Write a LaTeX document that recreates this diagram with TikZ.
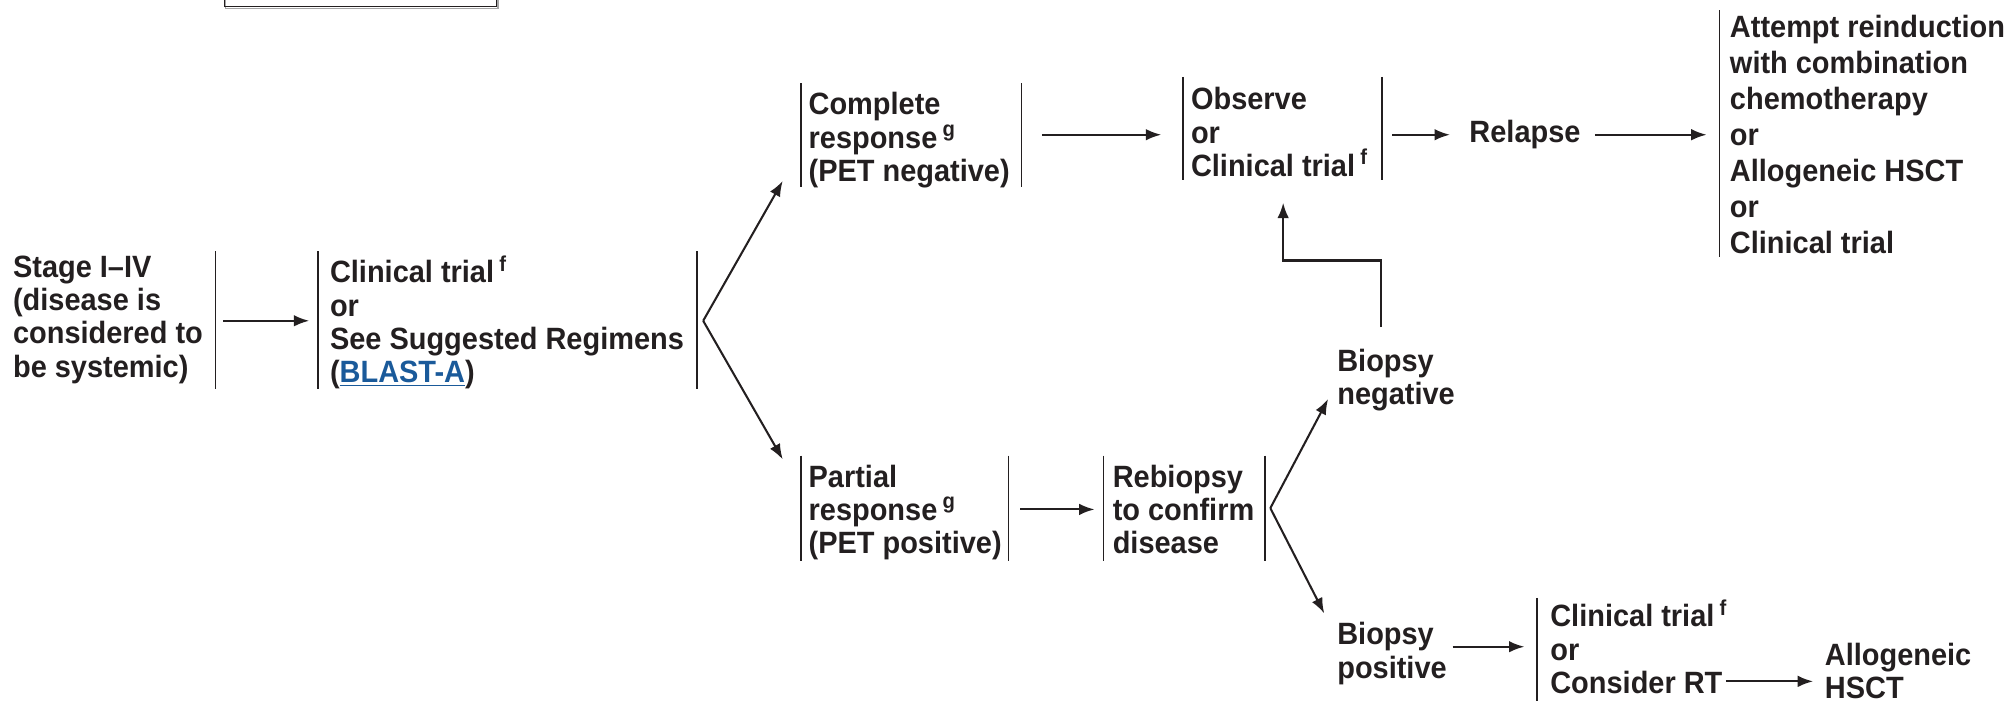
\documentclass[tikz,border=0pt]{standalone}
\usepackage{fontspec}
\setmainfont{Liberation Sans}[FakeStretch=0.94]
\usetikzlibrary{arrows.meta}
\definecolor{ink}{HTML}{231F20}
\definecolor{linkblue}{HTML}{1A5A9A}

\begin{document}
\begin{tikzpicture}[x=1pt,y=-1pt,
  txt/.style={inner sep=0pt, align=left, anchor=north west, text=ink,
              font=\bfseries\fontsize{24}{26}\selectfont},
  bar/.style={draw=ink, line width=1.4pt},
  arr/.style={draw=ink, line width=1.6pt, -{Latex[length=12pt,width=9pt]}}]
\useasboundingbox (0,0) rectangle (1568,548);

% box cut off at the top edge
\draw[gray!70, line width=1pt] (176,-10) -- (176,6.5) -- (388,6.5) -- (388,-10);
\draw[ink, line width=1.1pt] (175,-10) rectangle (387,5);

% text blocks
\node[txt] (stage) at (10,199) {Stage I–IV\\(disease is\\considered to\\be systemic)};
\node[txt] (trt) at (257,199) {Clinical trial\,\textsuperscript{f}\\or\\See Suggested Regimens\\(\textcolor{linkblue}{\underline{BLAST-A}})};
\node[txt] (cr) at (630,72) {Complete\\response\,\textsuperscript{g}\\(PET negative)};
\node[txt] (obs) at (928,68) {Observe\\or\\Clinical trial\,\textsuperscript{f}};
\node[txt, anchor=west] (rel) at (1145,105) {Relapse};
\node[txt, font=\bfseries\fontsize{24}{28}\selectfont] (reind) at (1348,12)
  {Attempt reinduction\\with combination\\chemotherapy\\or\\Allogeneic HSCT\\or\\Clinical trial};
\node[txt] (pr) at (630,362) {Partial\\response\,\textsuperscript{g}\\(PET positive)};
\node[txt] (rebx) at (867,362) {Rebiopsy\\to confirm\\disease};
\node[txt] (neg) at (1042,272) {Biopsy\\negative};
\node[txt] (pos) at (1042,485) {Biopsy\\positive};
\node[txt] (ct2) at (1208,467) {Clinical trial\,\textsuperscript{f}\\or\\Consider RT};
\node[txt] (allo) at (1422,501) {Allogeneic\\HSCT};

% brackets beside the blocks
\draw[bar] (168,196) -- (168,303);
\draw[bar] (248,196) -- (248,303);
\draw[bar] (543,196) -- (543,303);
\draw[bar] (624,65) -- (624,146);
\draw[bar] (796,65) -- (796,146);
\draw[bar] (922,60) -- (922,140);
\draw[bar] (1077,60) -- (1077,140);
\draw[bar] (1340,8) -- (1340,200);
\draw[bar] (624,355) -- (624,437);
\draw[bar] (786,355) -- (786,437);
\draw[bar] (860,355) -- (860,437);
\draw[bar] (986,355) -- (986,437);
\draw[bar] (1198,466) -- (1198,546);

% connector end points
\coordinate (a1s) at (174,250);   \coordinate (a1e) at (241,250);
\coordinate (fk1) at (548,250);
\coordinate (crin) at (610,141);  \coordinate (prin) at (610,358);
\coordinate (a2s) at (812,105);   \coordinate (a2e) at (905,105);
\coordinate (a3s) at (1085,105);  \coordinate (a4e) at (1330,105);
\coordinate (a5s) at (795,397);   \coordinate (a5e) at (853,397);
\coordinate (fk2) at (990,396);
\coordinate (negin) at (1035,311); \coordinate (posin) at (1032,478);
\coordinate (up1) at (1076,255);  \coordinate (obsin) at (1000,158);
\coordinate (a6s) at (1132,504);  \coordinate (a6e) at (1188,504);
\coordinate (a7s) at (1345,531);  \coordinate (a7e) at (1413,531);

% connectors
\draw[arr] (a1s) -- (a1e);
\draw[arr] (fk1) -- (crin);
\draw[arr] (fk1) -- (prin);
\draw[arr] (a2s) -- (a2e);
\draw[arr] (a3s) -- (rel.west -| 1130,0);
\draw[arr] ([xshift=11pt]rel.east) -- (a4e);
\draw[arr] (a5s) -- (a5e);
\draw[arr] (fk2) -- (negin);
\draw[arr] (fk2) -- (posin);
\draw[arr] (up1) -- (1076,203) -- (1000,203) -- (obsin);
\draw[arr] (a6s) -- (a6e);
\draw[arr] (a7s) -- (a7e);
\end{tikzpicture}
\end{document}
